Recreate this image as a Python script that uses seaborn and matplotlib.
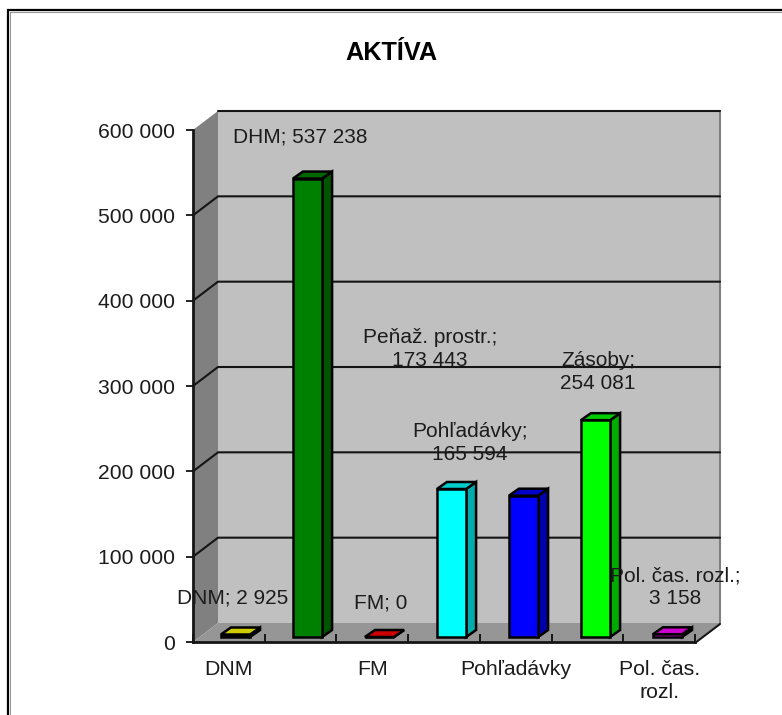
import matplotlib
matplotlib.use("Agg")
import matplotlib.pyplot as plt
from matplotlib.patches import Polygon
from matplotlib.colors import to_rgb
import seaborn as sns

# data
categories = ["DNM", "DHM", "FM", "Peňaž. prostr.", "Pohľadávky", "Zásoby", "Pol. čas. rozl."]
values = [2925, 537238, 0, 173443, 165594, 254081, 3158]
colors = ["#FFFF00", "#008000", "#FF0000", "#00FFFF", "#0000FF", "#00FF00", "#FF00FF"]
label_names = ["DNM", "DHM", "FM", "Peňaž. prostr.", "Pohľadávky", "Zásoby", "Pol. čas. rozl."]
label_breaks = ["; ", "; ", "; ", ";\n", ";\n", ";\n", ";\n"]
label_pos = [(233, 598), (300, 137), (381, 603), (430, 349), (470, 443), (598, 372), (675, 587)]
y_ticks = [0, 100000, 200000, 300000, 400000, 500000, 600000]
x_shown = ["DNM", "", "FM", "", "Pohľadávky", "", "Pol. čas.\nrozl."]

W, H = 782, 715
DEPTH_X, DEPTH_Y = 25, 19  # wall depth, px
BAR_DX, BAR_DY = 10, 7  # bar depth, px
TEXT = "#1c1c1c"

sns.set_style("white")
plt.rcParams["font.family"] = ["Liberation Sans", "DejaVu Sans"]

fig = plt.figure(figsize=(W / 100, H / 100), dpi=100)


def rect(x0, x1, y_bottom, y_top):
    return [x0 / W, 1 - y_bottom / H, (x1 - x0) / W, (y_bottom - y_top) / H]


# pixel canvas for walls and frame
bg = fig.add_axes([0, 0, 1, 1], zorder=0)
bg.set_xlim(0, W)
bg.set_ylim(H, 0)
bg.axis("off")

# front plane, carries the axis ticks
front = fig.add_axes(rect(193, 695, 642, 130), zorder=1)
front.patch.set_alpha(0)
front.set_xlim(-0.5, 6.5)
front.set_ylim(0, 600000)
front.set_yticks(y_ticks)
front.set_yticklabels([f"{v:,}".replace(",", " ") for v in y_ticks], fontsize=15.2, color=TEXT)
front.set_xticks(range(len(categories)))
front.set_xticklabels(x_shown, fontsize=15.3, color=TEXT, linespacing=1.25)
front.set_xticks([i - 0.5 for i in range(8)], minor=True)
front.tick_params(axis="y", direction="out", length=5, width=1.2, color="black", pad=8, left=True)
front.tick_params(axis="x", which="major", length=0, pad=13)
front.tick_params(axis="x", which="minor", direction="in", length=6, width=1.2, color="black", bottom=True)
for side in ["top", "right"]:
    front.spines[side].set_visible(False)
for side in ["left", "bottom"]:
    front.spines[side].set_linewidth(2)
    front.spines[side].set_color("#151515")


def to_px(axes, x, y):
    px, py = axes.transData.transform((x, y))
    return px, H - py


# walls and floor, taken from the front axis
x0, y0 = to_px(front, -0.5, 0)
x1, _ = to_px(front, 6.5, 0)
_, y_top = to_px(front, -0.5, y_ticks[-1])
bg.add_patch(Polygon([(x0 + DEPTH_X, y_top - DEPTH_Y), (x1 + DEPTH_X, y_top - DEPTH_Y),
                      (x1 + DEPTH_X, y0 - DEPTH_Y), (x0 + DEPTH_X, y0 - DEPTH_Y)],
                     fc="#C0C0C0", ec="none"))
bg.add_patch(Polygon([(x0, y_top), (x0 + DEPTH_X, y_top - DEPTH_Y), (x0 + DEPTH_X, y0 - DEPTH_Y), (x0, y0)],
                     fc="#808080", ec="none"))
bg.add_patch(Polygon([(x0, y0), (x1, y0), (x1 + DEPTH_X, y0 - DEPTH_Y), (x0 + DEPTH_X, y0 - DEPTH_Y)],
                     fc="#969696", ec="none"))
bg.plot([x1 + DEPTH_X] * 2, [y_top - DEPTH_Y, y0 - DEPTH_Y], color="#808080", lw=1.5)
for v in y_ticks[1:]:
    _, yy = to_px(front, -0.5, v)
    if v == y_ticks[-1]:
        # top edge has no diagonal
        bg.plot([x0 + DEPTH_X, x1 + DEPTH_X], [yy - DEPTH_Y, yy - DEPTH_Y], color="#151515", lw=1.5)
    else:
        bg.plot([x0, x0 + DEPTH_X, x1 + DEPTH_X], [yy, yy - DEPTH_Y, yy - DEPTH_Y], color="#151515", lw=1.5)
# last stretch of the floor edge
bg.plot([x1, x1 + DEPTH_X], [y0 + 1, y0 - DEPTH_Y + 1], color="#151515", lw=1.5)

# outer frame, open at right and bottom
bg.plot([8, 8, W], [H, 9.5, 9.5], color="black", lw=1.6, solid_joinstyle="miter")
bg.plot([10, 10], [H, 12], color="#999999", lw=0.8)
bg.plot([10, W], [11.5, 11.5], color="#999999", lw=0.8)

# bars sit a little inside the floor, same scale as the front plane
ax = fig.add_axes(rect(199.5, 703.5, 637, 125), zorder=2)
ax.patch.set_alpha(0)
sns.barplot(x=categories, y=values, hue=categories, palette=colors, width=0.405, saturation=1,
            edgecolor="black", linewidth=1.8, legend=False, ax=ax, zorder=3)
ax.set_xlim(-0.5, 6.5)
ax.set_ylim(0, 600000)
ax.axis("off")

for bar in ax.patches:
    xa, ya = to_px(ax, bar.get_x(), bar.get_height())
    xb, _ = to_px(ax, bar.get_x() + bar.get_width(), 0)
    _, yb = to_px(ax, 0, 0)
    rgb = to_rgb(bar.get_facecolor())
    top_c = tuple(c * 0.8 for c in rgb)
    side_c = tuple(c * 0.67 for c in rgb)
    ax.add_patch(Polygon([(xb, ya), (xb + BAR_DX, ya - BAR_DY), (xb + BAR_DX, yb - BAR_DY), (xb, yb)],
                         fc=side_c, ec="black", lw=1.8, transform=bg.transData, clip_on=False, zorder=2))
    ax.add_patch(Polygon([(xa, ya), (xa + BAR_DX, ya - BAR_DY), (xb + BAR_DX, ya - BAR_DY), (xb, ya)],
                         fc=top_c, ec="black", lw=1.8, transform=bg.transData, clip_on=False, zorder=2))
    bar.set_clip_on(False)

# data labels
for name, brk, val, (lx, ly) in zip(label_names, label_breaks, values, label_pos):
    txt = name + brk + f"{val:,}".replace(",", " ")
    ax.text(lx, ly, txt, transform=bg.transData, ha="center", va="center", fontsize=15, color=TEXT,
            linespacing=1.25, clip_on=False, zorder=5)

fig.text(391 / W, 1 - 53 / H, "AKTÍVA", ha="center", va="center", fontsize=18.2, fontweight="bold", color="black")

fig.savefig("out.png", dpi=100, facecolor="white")
